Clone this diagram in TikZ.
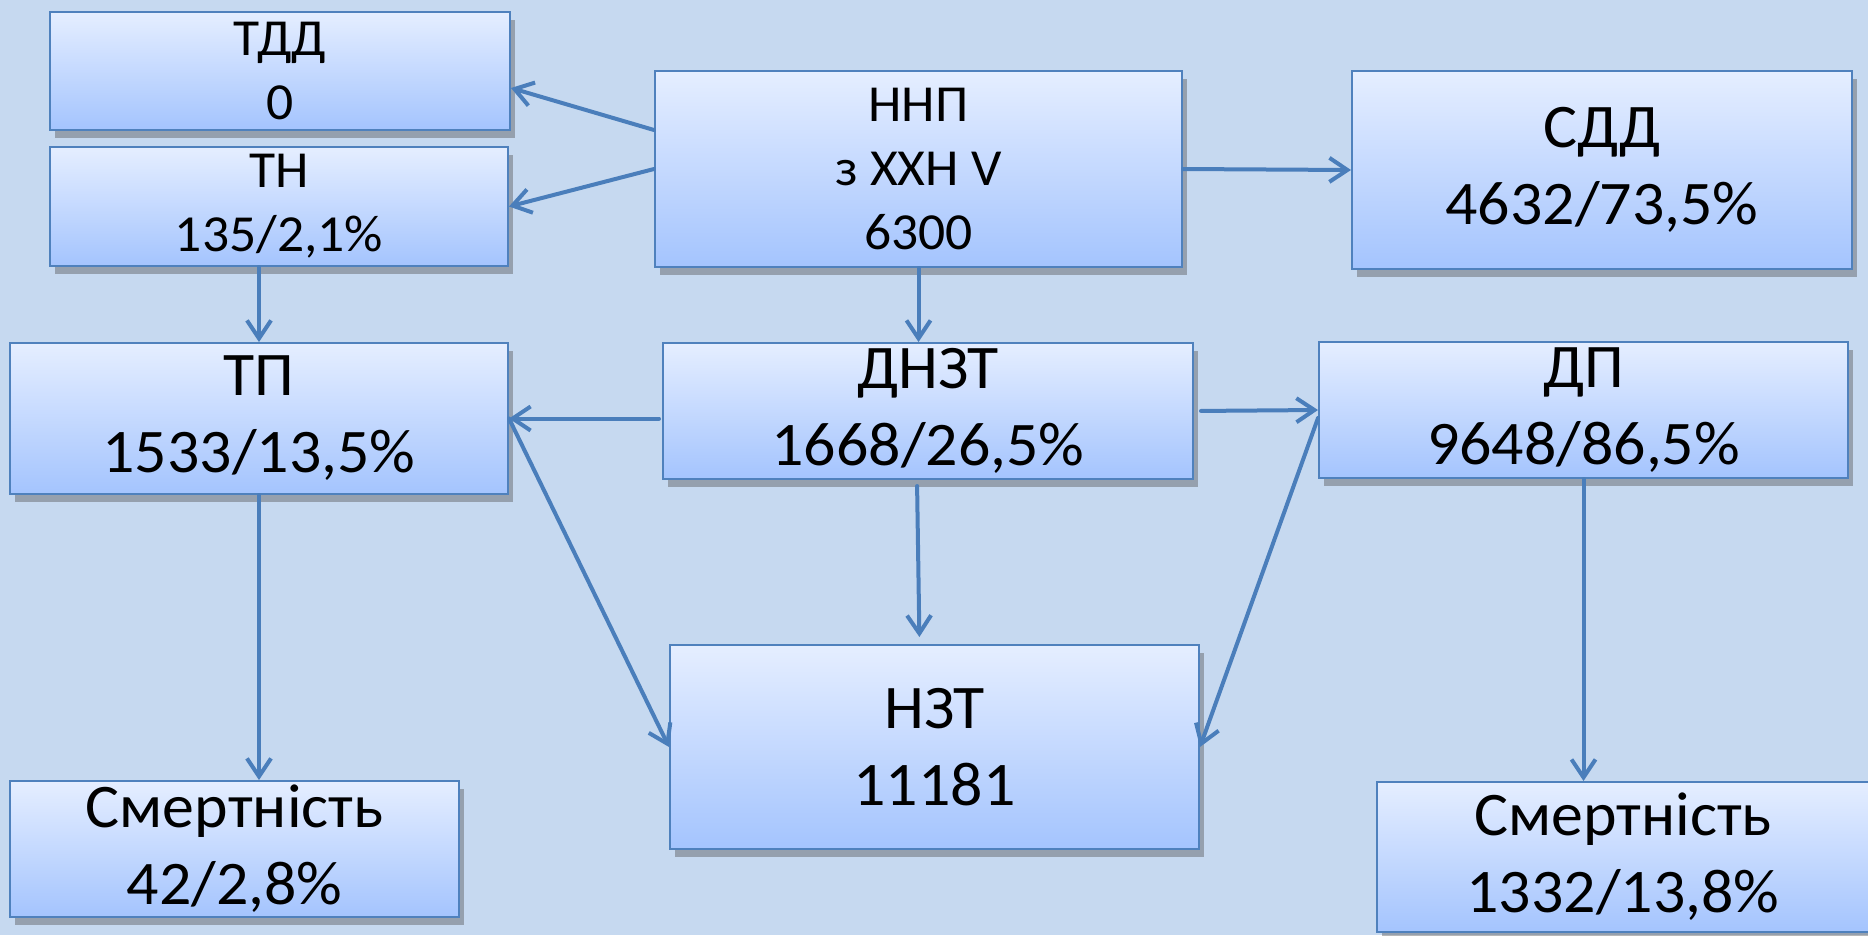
\documentclass[tikz,border=0pt]{standalone}
\usepackage{fontspec}
\setmainfont{Carlito}[FakeStretch=1.03]
\usetikzlibrary{arrows.meta,shadows}
\definecolor{bgblue}{RGB}{198,217,240}
\definecolor{boxtop}{RGB}{229,238,255}
\definecolor{boxbot}{RGB}{164,196,254}
\definecolor{boxline}{RGB}{79,129,189}
\definecolor{arrowblue}{RGB}{74,126,187}
\tikzstyle{box}=[draw=boxline,line width=2pt,top color=boxtop,bottom color=boxbot,inner sep=0,align=center,
  drop shadow={shadow xshift=5pt,shadow yshift=-8pt,fill=black!70,opacity=0.4}]
\tikzstyle{small box}=[box,font=\fontsize{52}{64}\selectfont,execute at begin node={\vspace*{4pt}}]
\tikzstyle{big box}=[box,font=\fontsize{62}{77}\selectfont,execute at begin node={\vspace*{10pt}}]
\tikzstyle{arrow}=[draw=arrowblue,line width=4pt,line cap=round,-{Straight Barb[length=18pt,width=24pt]}]

\begin{document}
\begin{tikzpicture}[x=1pt,y=-1pt]
		\fill[bgblue] (0,0) rectangle (1868,935);
		\useasboundingbox (0,0) rectangle (1868,935);

		\node[small box,minimum width=460,minimum height=118](tdd) at (280,71){ТДД\\0};
		\node[small box,minimum width=458,minimum height=119](tn) at (279,206.5){ТН\\135/2,1\%};
		\node[small box,minimum width=527,minimum height=196](nnp) at (918.5,169){ННП\\з ХХН V\\6300};
		\node[big box,minimum width=500,minimum height=198](sdd) at (1602,170){СДД\\4632/73,5\%};

		\node[big box,minimum width=498,minimum height=151](tp) at (259,418.5){ТП\\1533/13,5\%};
		\node[big box,minimum width=530,minimum height=136](dnzt) at (928,411){ДНЗТ\\1668/26,5\%};
		\node[big box,minimum width=529,minimum height=136](dp) at (1583.5,410){ДП\\9648/86,5\%};

		\node[big box,minimum width=529,minimum height=204](nzt) at (934.5,747){НЗТ\\11181};
		\node[big box,minimum width=449,minimum height=136](sm1) at (234.5,849){Смертність\\42/2,8\%};
		\node[big box,minimum width=492,minimum height=150](sm2) at (1623,857){Смертність\\1332/13,8\%};
%ННП to the first row
		\draw[arrow] ([yshift=39pt]nnp.west) -- ([yshift=-17pt]tdd.east);
		\draw[arrow] (nnp.west) -- (tn.east);
		\draw[arrow] (nnp.east) -- (sdd.west);
		\draw[arrow] (nnp.south) -- (nnp.south |- dnzt.north);
		\draw[arrow] (tp.north |- tn.south) -- (tp.north);
% ДНЗТ to the sides
		\draw[arrow,shorten <=3pt] (dnzt.west |- tp.east) -- (tp.east);
		\draw[arrow,shorten <=7pt] (dnzt.east) -- (dp.west);
		\draw[arrow,shorten <=6pt,shorten >=7pt] ([xshift=-11pt]dnzt.south) -- ([xshift=-15pt]nzt.north);
% into НЗТ
		\draw[arrow] (tp.east) -- (nzt.west);
		\draw[arrow] ([yshift=-8pt]dp.west) -- (nzt.east);
% mortality
		\draw[arrow] (tp.south) -- (tp.south |- sm1.north);
		\draw[arrow] (dp.south) -- (dp.south |- sm2.north);
	\end{tikzpicture}
\end{document}
